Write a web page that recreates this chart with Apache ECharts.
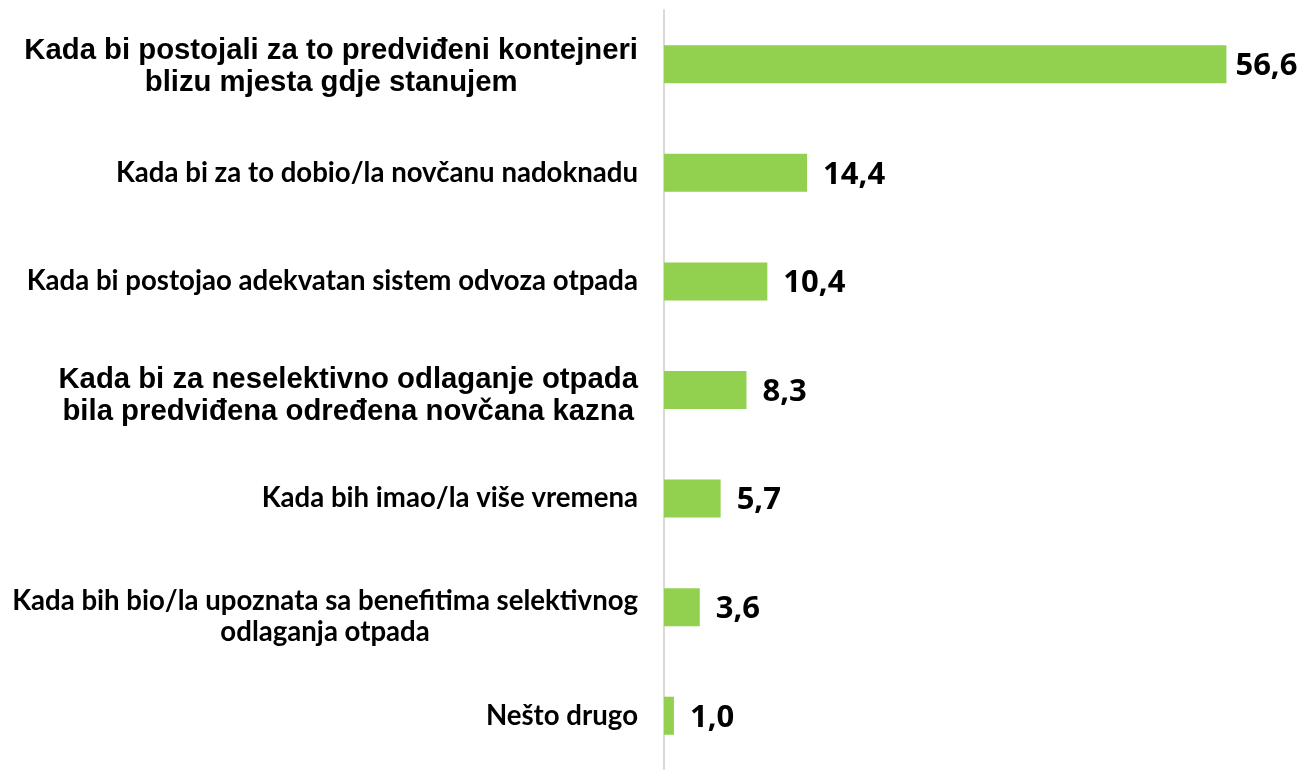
<!DOCTYPE html>
<html>
<head>
<meta charset="utf-8">
<script src="https://cdn.jsdelivr.net/npm/echarts@6/dist/echarts.min.js"></script>
<style>
  html, body { margin: 0; padding: 0; background: #fff; }
  #main { width: 1305px; height: 770px; }
</style>
</head>
<body>
<div id="main"></div>
<script>
var categories = [
    'Kada bi postojali za to predviđeni kontejneri\nblizu mjesta gdje stanujem',
    'Kada bi za to dobio/la novčanu nadoknadu',
    'Kada bi postojao adekvatan sistem odvoza otpada',
    'Kada bi za neselektivno odlaganje otpada\nbila predviđena određena novčana kazna',
    'Kada bih imao/la više vremena',
    'Kada bih bio/la upoznata sa benefitima selektivnog\nodlaganja otpada',
    'Nešto drugo'
];
var values = [56.6, 14.4, 10.4, 8.3, 5.7, 3.6, 1.0];
// labels set in Arial-like font in the original, the rest look like Calibri
var arialLabels = [0, 3];

var myChart = echarts.init(document.getElementById('main'));

// two-line labels sit a bit below the bar centre in the original
var padTop = { 0: 5, 3: 12, 5: 19 };
var catData = categories.map(function (c, i) {
    return padTop[i] ? { value: c, textStyle: { padding: [padTop[i], 0, 0, 0] } } : c;
});

// longest bar sits close to the edge, so its label hugs the bar
var barData = values.map(function (v, i) {
    return i === 0 ? { value: v, label: { distance: 9 } } : v;
});

var option = {
    backgroundColor: '#fff',
    animation: false,
    grid: { left: 664, top: 10, width: 626, height: 765 },
    xAxis: {
        type: 'value',
        min: 0,
        max: 63,
        show: false
    },
    yAxis: {
        type: 'category',
        inverse: true,
        data: catData,
        axisTick: { show: false },
        axisLine: { lineStyle: { color: '#d9d9d9', width: 2 } },
        axisLabel: {
            margin: 26,
            align: 'right',
            formatter: function (val, idx) {
                var key = arialLabels.indexOf(idx) >= 0 ? 'ar' : 'ca';
                return val.split('\n').map(function (s) {
                    return '{' + key + '|' + s + '}';
                }).join('\n');
            },
            rich: {
                ar: {
                    fontFamily: '"Liberation Sans", Arial, sans-serif',
                    fontWeight: 'bold',
                    fontSize: 29.3,
                    lineHeight: 32,
                    color: '#000',
                    align: 'center'
                },
                ca: {
                    fontFamily: 'Lato, sans-serif',
                    fontWeight: 'bold',
                    fontSize: 27.6,
                    lineHeight: 31,
                    color: '#000',
                    align: 'center'
                }
            }
        }
    },
    series: [{
        type: 'bar',
        data: barData,
        barWidth: 38,
        itemStyle: { color: '#92D050' },
        label: {
            show: true,
            position: 'right',
            distance: 16,
            offset: [0, 2],
            fontFamily: '"Open Sans", sans-serif',
            fontWeight: 'bold',
            fontSize: 31,
            color: '#000',
            formatter: function (p) {
                return p.value.toFixed(1).replace('.', ',');
            }
        }
    }]
};
myChart.setOption(option);
</script>
</body>
</html>
